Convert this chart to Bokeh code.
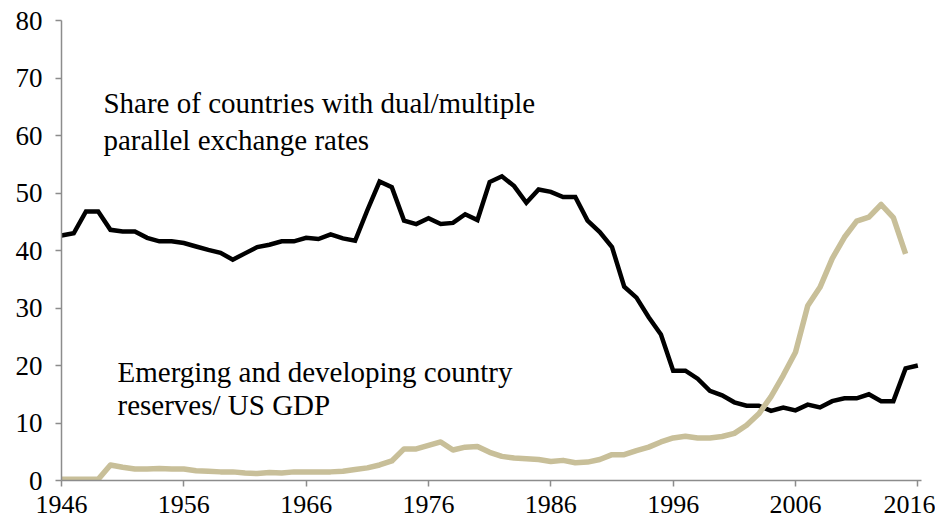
from bokeh.plotting import figure
from bokeh.models import Range1d, Label, FixedTicker
from bokeh.embed import file_html
from bokeh.resources import INLINE

years = list(range(1946, 2017))

dual_share = [
    42.6, 43.0, 46.8, 46.8, 43.6, 43.3, 43.3, 42.2, 41.6, 41.6,   # 1946-1955
    41.3, 40.7, 40.1, 39.6, 38.4, 39.5, 40.6, 41.0, 41.6, 41.6,   # 1956-1965
    42.2, 42.0, 42.8, 42.1, 41.7, 47.0, 52.0, 51.0, 45.2, 44.6,   # 1966-1975
    45.6, 44.6, 44.8, 46.3, 45.3, 51.9, 52.9, 51.2, 48.3, 50.6,   # 1976-1985
    50.2, 49.3, 49.3, 45.2, 43.2, 40.6, 33.7, 31.8, 28.4, 25.4,   # 1986-1995
    19.1, 19.1, 17.7, 15.6, 14.8, 13.6, 13.0, 13.0, 12.1, 12.7,   # 1996-2005
    12.2, 13.2, 12.7, 13.8, 14.3, 14.3, 15.0, 13.8, 13.8, 19.5,   # 2006-2015
    20.0,                                                         # 2016
]

reserve_years = list(range(1946, 2016))
reserves_gdp = [
    0.2, 0.2, 0.2, 0.2, 2.7, 2.3, 2.0, 2.0, 2.1, 2.0,             # 1946-1955
    2.0, 1.7, 1.6, 1.5, 1.5, 1.3, 1.2, 1.4, 1.3, 1.5,             # 1956-1965
    1.5, 1.5, 1.5, 1.6, 1.9, 2.2, 2.7, 3.4, 5.5, 5.5,             # 1966-1975
    6.1, 6.7, 5.3, 5.8, 5.9, 4.9, 4.2, 3.9, 3.8, 3.65,            # 1976-1985
    3.3, 3.5, 3.1, 3.2, 3.65, 4.5, 4.5, 5.2, 5.8, 6.7,            # 1986-1995
    7.4, 7.7, 7.4, 7.4, 7.65, 8.2, 9.6, 11.6, 14.6, 18.3,         # 1996-2005
    22.3, 30.4, 33.6, 38.6, 42.3, 45.1, 45.8, 48.0, 45.7, 39.4,   # 2006-2015
]

x_ticks = [1946, 1956, 1966, 1976, 1986, 1996, 2006, 2016]
y_ticks = [0, 10, 20, 30, 40, 50, 60, 70, 80]

label_dual = ["Share of countries with dual/multiple", "parallel exchange rates"]
label_res = ["Emerging and developing country", "reserves/ US GDP"]

FONT = "Liberation Serif"
ANN_FS = "29px"
AXIS_GRAY = "#8c8c8c"

p = figure(width=935, height=524, output_backend="svg", toolbar_location=None,
           x_range=Range1d(1946, 2016.3), y_range=Range1d(0, 80),
           min_border_left=61, min_border_right=14, min_border_top=20,
           min_border_bottom=44)
p.outline_line_color = None
p.grid.visible = False
p.background_fill_color = "white"
p.border_fill_color = "white"

p.line(years, dual_share, line_color="black", line_width=4.5, line_join="miter")
p.line(reserve_years, reserves_gdp, line_color="#c8bf99", line_width=5.5, line_join="round")

for ax in (p.xaxis[0], p.yaxis[0]):
    ax.axis_line_color = AXIS_GRAY
    ax.axis_line_width = 1.5
    ax.major_tick_line_color = AXIS_GRAY
    ax.major_tick_line_width = 1.5
    ax.minor_tick_line_color = None
    ax.major_tick_in = 0
    ax.major_label_text_font = FONT
    ax.major_label_text_color = "black"

p.xaxis.ticker = FixedTicker(ticks=x_ticks)
p.yaxis.ticker = FixedTicker(ticks=y_ticks)
p.xaxis.major_label_text_font_size = "26px"
p.yaxis.major_label_text_font_size = "27px"
p.xaxis.major_tick_out = 6
p.yaxis.major_tick_out = 6
p.xaxis.major_label_standoff = 9
p.yaxis.major_label_standoff = 13

for txt, yy in zip(label_dual, [65.6, 59.3]):
    p.add_layout(Label(x=1949.43, y=yy, text=txt, text_font=FONT,
                       text_font_size=ANN_FS, text_baseline="middle", text_color="black"))
for txt, yy in zip(label_res, [18.8, 13.2]):
    p.add_layout(Label(x=1950.58, y=yy, text=txt, text_font=FONT,
                       text_font_size=ANN_FS, text_baseline="middle", text_color="black"))

open("out.html", "w").write(file_html(p, INLINE))
